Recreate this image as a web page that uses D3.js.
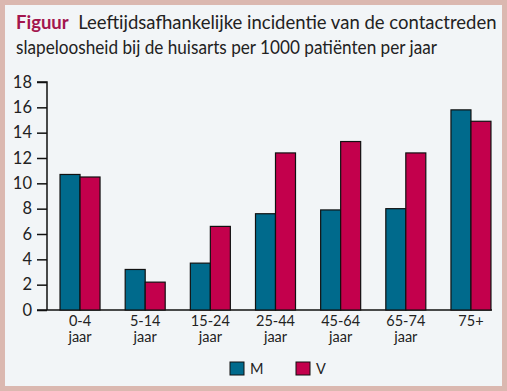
<!DOCTYPE html>
<html>
<head>
<meta charset="utf-8">
<script src="https://cdn.jsdelivr.net/npm/d3@7"></script>
<style>
  body { margin: 0; background: #fff; }
  text { font-family: Lato, sans-serif; }
</style>
</head>
<body>
<svg id="chart" width="507" height="391"></svg>
<script>
// data
var categories = ['0-4', '5-14', '15-24', '25-44', '45-64', '65-74', '75+'];
var catSub = ['jaar', 'jaar', 'jaar', 'jaar', 'jaar', 'jaar', ''];
var seriesNames = ['M', 'V'];
var valuesM = [10.7, 3.2, 3.7, 7.6, 7.9, 8.0, 15.8];
var valuesV = [10.5, 2.2, 6.6, 12.4, 13.3, 12.4, 14.9];
var yTicks = [0, 2, 4, 6, 8, 10, 12, 14, 16, 18];

var colors = { M: '#006a8c', V: '#c3004c' };

var svg = d3.select('#chart');

// frame
svg.append('rect')
    .attr('x', 2.5).attr('y', 2.5)
    .attr('width', 502).attr('height', 386)
    .style('fill', '#f2f5f7')
    .style('stroke', '#dbb8b0')
    .style('stroke-width', 5);

// title
var title = svg.append('text').attr('x', 16).attr('y', 29)
    .style('font-size', '18.5px').style('fill', '#222');
title.append('tspan').text('Figuur').style('font-weight', 'bold').style('fill', '#a3164e');
title.append('tspan').text('\u00a0 Leeftijdsafhankelijke incidentie van de contactreden');
svg.append('text').attr('x', 16).attr('y', 54)
    .attr('textLength', 421).attr('lengthAdjust', 'spacingAndGlyphs')
    .style('font-size', '18.5px').style('fill', '#222')
    .text('slapeloosheid bij de huisarts per 1000 pati\u00ebnten per jaar');

// scales
var y = d3.scaleLinear().domain([0, 18]).range([310, 82]);
var x0 = d3.scaleBand().domain(categories).range([47, 504])
    .paddingInner(0.386).paddingOuter(0.2);
var x1 = d3.scaleBand().domain(seriesNames).range([0, x0.bandwidth()]);

// y axis
var yAxis = d3.axisLeft(y).tickValues(yTicks).tickSize(10).tickPadding(5);
var gy = svg.append('g').attr('transform', 'translate(47,0)').call(yAxis);
gy.select('.domain').style('stroke', '#111').style('stroke-width', 1.5)
    .attr('d', 'M-10,' + y(18) + 'H0V' + y(0));
gy.selectAll('.tick line').style('stroke', '#111').style('stroke-width', 1.5);
gy.selectAll('.tick text').style('font-size', '16.5px').style('fill', '#222')
    .style('font-family', 'Lato, sans-serif');

// x axis baseline
svg.append('line')
    .attr('x1', 37).attr('x2', x0('75+') + x0.bandwidth() + 1)
    .attr('y1', y(0)).attr('y2', y(0))
    .style('stroke', '#111').style('stroke-width', 1.5);

// bars
var rows = categories.map(function (c, i) {
    return { cat: c, vals: [{ s: 'M', v: valuesM[i] }, { s: 'V', v: valuesV[i] }] };
});
var groups = svg.selectAll('g.grp').data(rows).enter().append('g')
    .attr('class', 'grp')
    .attr('transform', function (d) { return 'translate(' + x0(d.cat) + ',0)'; });
groups.selectAll('rect').data(function (d) { return d.vals; }).enter().append('rect')
    .attr('x', function (d) { return x1(d.s); })
    .attr('y', function (d) { return y(d.v); })
    .attr('width', x1.bandwidth())
    .attr('height', function (d) { return y(0) - y(d.v); })
    .style('fill', function (d) { return colors[d.s]; })
    .style('stroke', '#111').style('stroke-width', 1.2);

// category labels
categories.forEach(function (c, i) {
    var cx = x0(c) + x0.bandwidth() / 2;
    svg.append('text').attr('x', cx).attr('y', 326).attr('text-anchor', 'middle')
        .style('font-size', '14.5px').style('fill', '#222').text(c);
    if (catSub[i]) {
        svg.append('text').attr('x', cx).attr('y', 342).attr('text-anchor', 'middle')
            .style('font-size', '14.5px').style('fill', '#222').text(catSub[i]);
    }
});

// legend
var legendX = d3.scaleOrdinal().domain(seriesNames).range([230, 296]);
var lg = svg.selectAll('g.leg').data(seriesNames).enter().append('g')
    .attr('class', 'leg')
    .attr('transform', function (d) { return 'translate(' + legendX(d) + ',362)'; });
lg.append('rect').attr('width', 14).attr('height', 13)
    .style('fill', function (d) { return colors[d]; })
    .style('stroke', '#111').style('stroke-width', 1);
lg.append('text').attr('x', 20).attr('y', 12)
    .style('font-size', '14.5px').style('fill', '#222')
    .text(function (d) { return d; });
</script>
</body>
</html>
